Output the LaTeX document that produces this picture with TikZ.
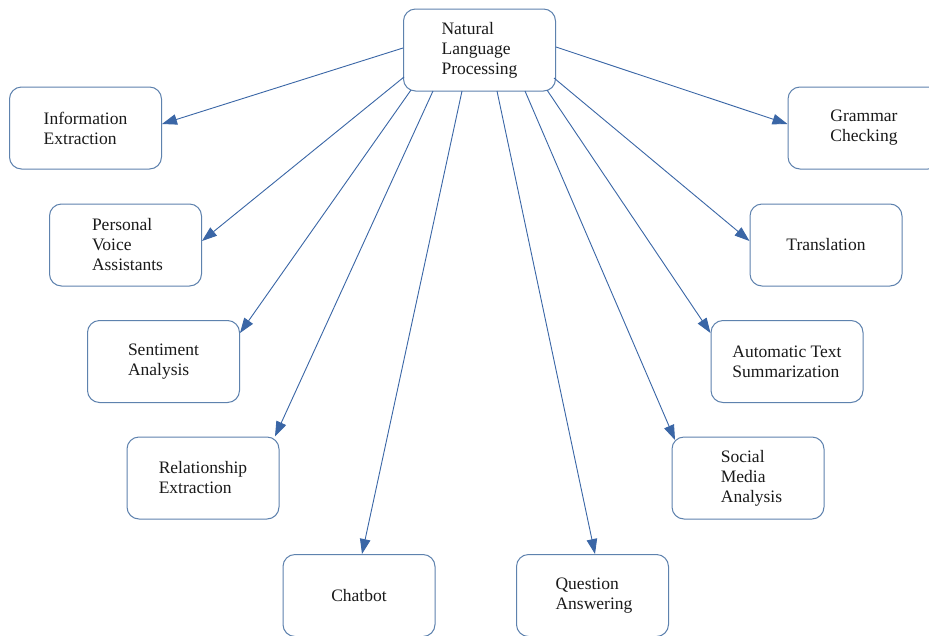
\documentclass[tikz,border=0pt]{standalone}
\usepackage{fontspec}
\setmainfont{Liberation Serif}
\usetikzlibrary{arrows.meta}
\definecolor{boxline}{HTML}{5E82AE}
\definecolor{arrline}{HTML}{3A66A6}
\definecolor{txt}{HTML}{1A1A1A}
\tikzset{
  box/.style={draw=boxline, line width=1pt, rounded corners=12pt, fill=white,
    minimum width=152pt, minimum height=82pt, inner sep=0pt, align=left,
    text=txt, font=\fontsize{17.5pt}{20pt}\selectfont},
  arr/.style={draw=arrline, line width=0.9pt,
    -{Triangle[length=15pt,width=10.5pt,fill=arrline]}}
}
\begin{document}
\begin{tikzpicture}[x=1pt,y=-1pt]
\useasboundingbox (0,0) rectangle (929,635);
\clip (0,0) rectangle (929,635);
\fill[white] (0,0) rectangle (929,635);
\node[box] (nlp) at (479.5,50) {Natural\\Language\\Processing};
\node[box] (info) at (85.5,128) {Information\\Extraction};
\node[box] (pva) at (125.5,245) {\hspace*{4pt}Personal\\\hspace*{4pt}Voice\\\hspace*{4pt}Assistants};
\node[box] (sent) at (163.5,361.5) {Sentiment\\Analysis};
\node[box] (rel) at (203,478) {Relationship\\Extraction};
\node[box] (chat) at (359,595.5) {Chatbot};
\node[box] (qa) at (592.5,595.5) {\hspace*{3pt}Question\\\hspace*{3pt}Answering};
\node[box] (soc) at (748,478) {\hspace*{7pt}Social\\\hspace*{7pt}Media\\\hspace*{7pt}Analysis};
\node[box] (ats) at (787,361.5) {Automatic Text\\Summarization};
\node[box] (tra) at (826,245) {Translation};
\node[box] (gra) at (864,128) {Grammar\\Checking};

\draw[arr] ([shift={(-76.5,-2)}]nlp.center) -- ([yshift=4]info.east);
\draw[arr] ([shift={(-75.5,27)}]nlp.center) -- ([yshift=4]pva.east);
\draw[arr] ([shift={(-68.5,40)}]nlp.center) -- ([yshift=28.5]sent.east);
\draw[arr] ([shift={(-46.5,41)}]nlp.center) -- ([xshift=72]rel.north);
\draw[arr] ([shift={(-17.5,41)}]nlp.center) -- ([xshift=3]chat.north);
\draw[arr] ([shift={(17.5,41)}]nlp.center) -- ([xshift=2.5]qa.north);
\draw[arr] ([shift={(45.5,41)}]nlp.center) -- ([shift={(3.5,3.5)}]soc.north west);
\draw[arr] ([shift={(67.5,40)}]nlp.center) -- ([yshift=28.5]ats.west);
\draw[arr] ([shift={(74.5,28)}]nlp.center) -- ([yshift=4]tra.west);
\draw[arr] ([shift={(76.5,-3)}]nlp.center) -- ([yshift=4]gra.west);
\end{tikzpicture}
\end{document}
